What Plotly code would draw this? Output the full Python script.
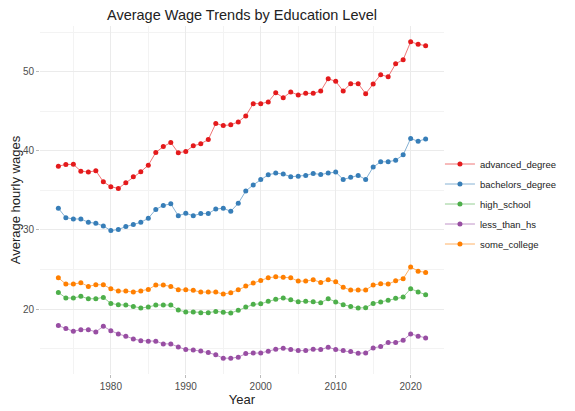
import plotly.graph_objects as go

# Years and wages by education level
years = list(range(1973, 2023))

advanced_degree = [
    38.07, 38.28, 38.30, 37.44, 37.32, 37.49, 36.10, 35.47, 35.26, 35.97,
    36.73, 37.36, 38.20, 39.80, 40.55, 41.06, 39.76, 39.93, 40.64, 40.90,
    41.44, 43.46, 43.20, 43.30, 43.67, 44.43, 45.98, 45.98, 46.19, 47.36,
    46.73, 47.45, 47.07, 47.28, 47.28, 47.57, 49.13, 48.80, 47.57, 48.50,
    48.50, 47.24, 48.46, 49.63, 49.38, 51.02, 51.53, 53.80, 53.50, 53.30,
]
bachelors_degree = [
    32.74, 31.56, 31.39, 31.39, 30.97, 30.85, 30.50, 29.92, 30.05, 30.43,
    30.68, 30.97, 31.48, 32.60, 33.10, 33.30, 31.80, 32.10, 31.80, 32.07,
    32.07, 32.65, 32.74, 32.36, 33.37, 34.92, 35.70, 36.39, 36.98, 37.19,
    37.07, 36.73, 36.81, 36.90, 37.15, 37.02, 37.19, 37.32, 36.39, 36.68,
    36.90, 36.39, 37.95, 38.62, 38.62, 38.83, 39.50, 41.56, 41.22, 41.52,
]
high_school = [
    22.10, 21.39, 21.39, 21.60, 21.30, 21.30, 21.47, 20.71, 20.54, 20.50,
    20.33, 20.13, 20.25, 20.50, 20.50, 20.50, 19.87, 19.62, 19.62, 19.53,
    19.53, 19.70, 19.58, 19.50, 19.83, 20.25, 20.59, 20.67, 20.97, 21.22,
    21.39, 21.17, 20.92, 20.97, 20.92, 20.80, 21.30, 20.90, 20.54, 20.33,
    20.13, 20.17, 20.71, 20.90, 21.10, 21.35, 21.51, 22.56, 22.14, 21.80,
]
less_than_hs = [
    17.90, 17.52, 17.18, 17.39, 17.39, 17.10, 17.82, 17.26, 16.85, 16.56,
    16.22, 16.00, 15.93, 15.93, 15.59, 15.59, 15.20, 14.87, 14.83, 14.70,
    14.49, 14.20, 13.78, 13.78, 13.90, 14.36, 14.45, 14.45, 14.66, 14.92,
    15.04, 14.87, 14.74, 14.74, 14.92, 14.87, 15.17, 14.87, 14.74, 14.62,
    14.41, 14.45, 15.08, 15.25, 15.75, 15.75, 16.05, 16.85, 16.56, 16.34,
]
some_college = [
    23.95, 23.15, 23.15, 23.32, 22.86, 23.07, 23.07, 22.56, 22.27, 22.27,
    22.14, 22.27, 22.48, 23.03, 23.03, 22.86, 22.43, 22.43, 22.36, 22.14,
    22.14, 22.14, 21.89, 22.06, 22.43, 22.90, 23.28, 23.62, 23.95, 24.07,
    24.03, 23.95, 23.53, 23.53, 23.70, 23.36, 23.70, 23.45, 22.74, 22.40,
    22.40, 22.40, 23.03, 23.20, 23.15, 23.57, 23.82, 25.33, 24.79, 24.63,
]

series = [
    ("advanced_degree", advanced_degree, "#E41A1C", "rgba(228,26,28,0.6)"),
    ("bachelors_degree", bachelors_degree, "#377EB8", "rgba(55,126,184,0.6)"),
    ("high_school", high_school, "#4DAF4A", "rgba(77,175,74,0.6)"),
    ("less_than_hs", less_than_hs, "#984EA3", "rgba(152,78,163,0.6)"),
    ("some_college", some_college, "#FF7F00", "rgba(255,127,0,0.6)"),
]

fig = go.Figure()

for name, vals, col, line_col in series:
    fig.add_trace(go.Scatter(
        x=years, y=vals,
        mode='lines+markers',
        name=name,
        legendgroup=name,
        line=dict(color=line_col, width=1),
        marker=dict(color=col, size=5),
    ))

grid_major = "#EBEBEB"
grid_minor = "#F3F3F3"

# the page body adds an 8px offset, so the figure is 8px smaller than the window
fig.update_layout(
    width=567,
    height=403,
    paper_bgcolor="white",
    plot_bgcolor="white",
    font=dict(family="Liberation Sans, Arial, sans-serif", color="#222222"),
    title=dict(
        text="Average Wage Trends by Education Level",
        x=0.5, xref="paper", xanchor="center",
        y=0.984, yref="container", yanchor="middle",
        font=dict(size=14.5, color="#222222"),
    ),
    margin=dict(l=32, r=131, t=18, b=37),
    legend=dict(
        x=0.99, xanchor="left",
        y=0.4885, yanchor="middle",
        bgcolor="rgba(0,0,0,0)",
        font=dict(size=9.5, color="#222222"),
        tracegroupgap=1,
        itemwidth=30,
    ),
    xaxis=dict(
        title=dict(text="Year", font=dict(size=13, color="#222222"), standoff=3),
        automargin=False,
        range=[1970.55, 2024.45],
        tickvals=[1980, 1990, 2000, 2010, 2020],
        tickfont=dict(size=10, color="#4D4D4D"),
        ticks="outside", ticklen=3, tickcolor="#BBBBBB",
        showgrid=True, gridcolor=grid_major, gridwidth=1,
        minor=dict(tickvals=[1975, 1985, 1995, 2005, 2015],
                   showgrid=True, gridcolor=grid_minor, gridwidth=1),
        zeroline=False, showline=False,
    ),
    yaxis=dict(
        title=dict(text="Average hourly wages", font=dict(size=13, color="#222222"), standoff=3),
        automargin=False,
        range=[11.78, 55.8],
        tickvals=[20, 30, 40, 50],
        tickfont=dict(size=10, color="#4D4D4D"),
        ticks="outside", ticklen=3, tickcolor="#BBBBBB",
        showgrid=True, gridcolor=grid_major, gridwidth=1,
        minor=dict(tickvals=[15, 25, 35, 45, 55],
                   showgrid=True, gridcolor=grid_minor, gridwidth=1),
        zeroline=False, showline=False,
    ),
)

fig.write_html("out.html")
